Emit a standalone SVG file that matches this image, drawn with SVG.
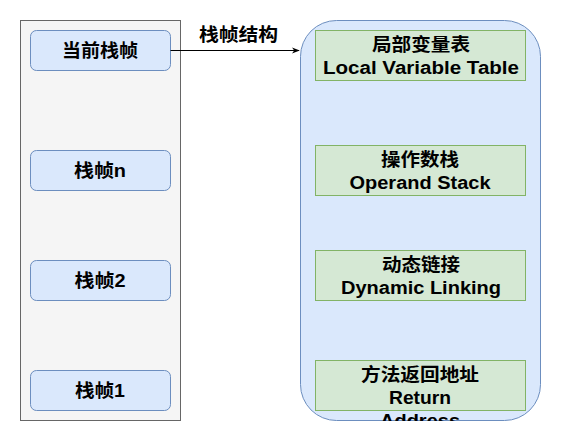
<svg xmlns="http://www.w3.org/2000/svg" width="561" height="441" viewBox="0 0 561 441">
<style>
  .t { font-family: "Liberation Sans", "Noto Sans CJK SC", sans-serif; font-weight: bold; font-size: 18px; fill: #000; text-anchor: middle; }
  .frame { fill: #dae8fc; stroke: #6c8ebf; stroke-width: 1; }
  .part { fill: #d5e8d4; stroke: #82b366; stroke-width: 1; }
</style>
<defs>
  <marker id="arr" viewBox="0 0 10 10" refX="9" refY="5" markerWidth="8" markerHeight="8" markerUnits="userSpaceOnUse" orient="auto">
    <path d="M0,1 L10,5 L0,9 L3,5 Z" fill="#000"/>
  </marker>
  <clipPath id="clip"><rect x="0" y="0" width="561" height="421"/></clipPath>
</defs>
<rect width="561" height="441" fill="#fff"/>

<g id="stack">
  <rect x="20.5" y="20.5" width="160" height="400" fill="#f5f5f5" stroke="#666666"/>
</g>
<g id="frame-current">
  <rect class="frame" x="30.5" y="30.5" width="140" height="40" rx="6"/>
  <text class="t" x="100" y="57" textLength="76" lengthAdjust="spacingAndGlyphs">当前栈帧</text>
</g>
<g id="frame-n">
  <rect class="frame" x="30.5" y="150.5" width="140" height="40" rx="6"/>
  <text class="t" x="100" y="177" textLength="52" lengthAdjust="spacingAndGlyphs">栈帧n</text>
</g>
<g id="frame-2">
  <rect class="frame" x="30.5" y="260.5" width="140" height="40" rx="6"/>
  <text class="t" x="100" y="287" textLength="51" lengthAdjust="spacingAndGlyphs">栈帧2</text>
</g>
<g id="frame-1">
  <rect class="frame" x="30.5" y="370.5" width="140" height="40" rx="6"/>
  <text class="t" x="100" y="397" textLength="50" lengthAdjust="spacingAndGlyphs">栈帧1</text>
</g>

<g id="structure">
  <rect class="frame" x="300.5" y="20.5" width="240" height="400" rx="36"/>
</g>
<g id="local-vars">
  <rect class="part" x="315.5" y="30.5" width="210" height="50"/>
  <text class="t" x="421" y="51" textLength="98" lengthAdjust="spacingAndGlyphs">局部变量表</text>
  <text class="t" x="421" y="74" textLength="196" lengthAdjust="spacingAndGlyphs">Local Variable Table</text>
</g>
<g id="operand-stack">
  <rect class="part" x="315.5" y="145.5" width="210" height="50"/>
  <text class="t" x="420" y="166" textLength="78" lengthAdjust="spacingAndGlyphs">操作数栈</text>
  <text class="t" x="420" y="189" textLength="141" lengthAdjust="spacingAndGlyphs">Operand Stack</text>
</g>
<g id="dynamic-linking">
  <rect class="part" x="315.5" y="250.5" width="210" height="50"/>
  <text class="t" x="421" y="271" textLength="78" lengthAdjust="spacingAndGlyphs">动态链接</text>
  <text class="t" x="421" y="294" textLength="160" lengthAdjust="spacingAndGlyphs">Dynamic Linking</text>
</g>
<g id="return-address" clip-path="url(#clip)">
  <rect class="part" x="315.5" y="360.5" width="210" height="50"/>
  <text class="t" x="420" y="381" textLength="118" lengthAdjust="spacingAndGlyphs">方法返回地址</text>
  <text class="t" x="420" y="404" textLength="62" lengthAdjust="spacingAndGlyphs">Return</text>
  <text class="t" x="420" y="427" textLength="80" lengthAdjust="spacingAndGlyphs">Address</text>
</g>

<g id="connectors">
  <line x1="170.5" y1="50.5" x2="299" y2="50.5" stroke="#000" stroke-width="1" marker-end="url(#arr)"/>
  <text class="t" x="238.5" y="41" textLength="79" lengthAdjust="spacingAndGlyphs">栈帧结构</text>
</g>
</svg>
